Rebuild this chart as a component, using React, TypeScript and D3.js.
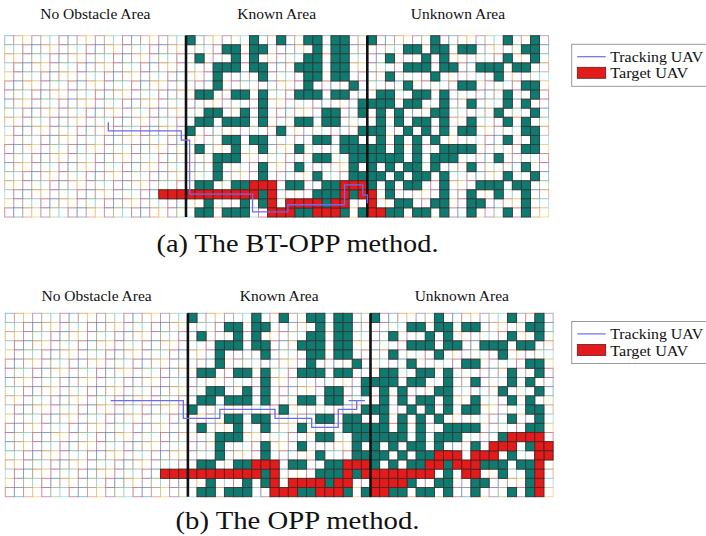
import React, { useEffect, useRef } from "react";
import * as d3 from "d3";

const COLS = 60;
const ROWS = 20;
const areaLabels = ["No Obstacle Area", "Known Area", "Unknown Area"];
const dividerCols = [20, 40];
// MATLAB default colour order, used for the cell outlines
const gridColors = ["#0072BD", "#D95319", "#EDB120", "#7E2F8E", "#77AC30", "#4DBEEE", "#A2142F"];

// obstacle columns for each row (rows 0..19)
const obstacleCols = [
  [20, 27, 30, 33, 34, 36, 37, 40, 47, 55, 58],
  [24, 25, 27, 28, 34, 36, 37, 44, 45, 47, 48, 50, 51, 57, 58],
  [21, 25, 27, 33, 34, 36, 37, 42, 46, 48, 55, 58],
  [23, 24, 25, 27, 28, 32, 33, 34, 36, 37, 44, 45, 46, 48, 49, 52, 53, 54, 56, 57],
  [23, 28, 33, 34, 36, 37, 42, 47, 54],
  [23, 33, 38, 44, 50, 51, 57, 58],
  [21, 22, 25, 26, 28, 32, 33, 34, 36, 37, 41, 42, 45, 46, 48, 55, 58],
  [28, 39, 40, 41, 42, 44, 45, 48, 51, 55, 57],
  [22, 23, 26, 28, 35, 36, 39, 41, 43, 47, 48, 54, 58],
  [21, 22, 24, 25, 26, 28, 32, 33, 35, 36, 41, 43, 45, 46, 48, 51, 55, 57],
  [20, 30, 39, 40, 41, 44, 46, 48, 50, 51, 57, 58],
  [24, 25, 27, 28, 34, 35, 37, 38, 41, 43, 45, 47, 55, 58],
  [21, 25, 28, 32, 37, 38, 39, 40, 41, 43, 45, 48, 49, 50, 51, 57, 58],
  [23, 24, 25, 34, 35, 38, 39, 40, 41, 42, 43, 45, 47, 48, 49, 54],
  [23, 28, 32, 38, 40, 42, 44, 45, 47, 51, 57],
  [23, 28, 34, 38, 39, 40, 41, 43, 45, 46, 48, 55, 58],
  [21, 22, 25, 26, 31, 32, 35, 36, 40, 42, 44, 45, 48, 52, 53, 54, 56, 57],
  [28, 34, 35, 36, 38, 42, 48, 51, 54, 57],
  [22, 26, 28, 35, 43, 44, 47, 48, 51, 52, 57],
  [21, 22, 24, 25, 26, 32, 33, 37, 39, 42, 43, 45, 46, 48, 51, 55, 57],
];

// cells visited by the target UAV [col, row]
const targetPath = [
  [17, 17], [18, 17], [19, 17], [20, 17], [21, 17], [22, 17], [23, 17], [24, 17], [25, 17], [26, 17], [27, 17],
  [27, 16], [28, 16], [29, 16], [29, 17], [29, 18], [29, 19], [30, 19], [31, 19], [31, 18], [32, 18], [33, 18],
  [34, 18], [34, 19], [35, 19], [36, 19], [36, 18], [37, 18], [37, 17], [37, 16], [38, 16], [39, 16], [39, 17],
  [40, 17], [40, 18], [40, 19], [41, 19],
  [41, 18], [41, 17], [42, 17], [42, 18], [43, 18], [43, 17], [44, 17], [45, 17], [46, 17], [46, 16], [47, 16],
  [47, 15], [48, 15], [49, 15], [49, 16], [50, 16], [50, 17], [51, 17], [51, 16], [51, 15], [52, 15], [53, 15],
  [53, 14], [54, 14], [55, 14], [55, 13], [56, 13], [57, 13], [58, 13], [58, 14], [59, 14], [59, 15], [58, 15],
  [58, 16], [58, 17], [58, 18], [58, 19],
];
const targetStepsA = 37;

// tracking UAV trajectories in grid units [col, row]
const trackA = [
  [11.43, 9.54], [11.43, 10.5], [19.48, 10.5], [19.48, 11.52], [20.4, 11.52], [20.4, 17.48], [27.34, 17.48],
  [27.34, 19.43], [31.24, 19.43], [31.24, 18.65], [37.49, 18.65], [37.49, 16.45], [39.5, 16.45], [39.5, 17.55],
  [40.0, 17.55], [40.0, 18.5],
];
const trackB = [
  [11.54, 9.53], [19.5, 9.53], [19.5, 11.45], [23.5, 11.45], [23.5, 10.47], [29.54, 10.47], [29.54, 11.45],
  [33.56, 11.45], [33.56, 12.43], [36.47, 12.43], [36.47, 10.47], [38.49, 10.47], [38.49, 9.53], [37.6, 9.53],
  [39.4, 9.53],
];

const legendItems = ["Tracking UAV", "Target UAV"];
const captions = ["(a) The BT-OPP method.", "(b) The OPP method."];

const panels = [
  { x0: 4.7, x1: 548.6, y0: 35.7, y1: 217.0, labelY: 19, legendY: 44.3, captionY: 252, captionW: 282, track: trackA, steps: targetStepsA },
  { x0: 5.3, x1: 553.1, y0: 313.3, y1: 496.7, labelY: 301, legendY: 321.5, captionY: 529, captionW: 244, track: trackB, steps: targetPath.length },
];

const App = () => {
  const svgRef = useRef(null);

  useEffect(() => {
    const svg = d3.select(svgRef.current);
    svg.selectAll("*").remove();

    const cells = d3.range(ROWS * COLS).map((i) => ({ r: Math.floor(i / COLS), c: i % COLS }));
    const obstacles = obstacleCols.flatMap((cols, r) => cols.map((c) => ({ r, c })));

    panels.forEach((p, pi) => {
      const x = d3.scaleLinear().domain([0, COLS]).range([p.x0, p.x1]);
      const y = d3.scaleLinear().domain([0, ROWS]).range([p.y0, p.y1]);
      const cw = x(1) - x(0);
      const ch = y(1) - y(0);
      const g = svg.append("g");

      g.selectAll("rect.cell")
        .data(cells)
        .join("rect")
        .attr("class", "cell")
        .attr("x", (d) => x(d.c))
        .attr("y", (d) => y(d.r))
        .attr("width", cw)
        .attr("height", ch)
        .attr("fill", "white")
        .attr("stroke", (d, i) => gridColors[i % gridColors.length])
        .attr("stroke-opacity", 0.45)
        .attr("stroke-width", 1);

      g.selectAll("rect.obs")
        .data(obstacles)
        .join("rect")
        .attr("class", "obs")
        .attr("x", (d) => x(d.c))
        .attr("y", (d) => y(d.r))
        .attr("width", cw)
        .attr("height", ch)
        .attr("fill", "#0e7a70")
        .attr("stroke", "#2f3a39")
        .attr("stroke-width", 0.9);

      g.selectAll("rect.target")
        .data(targetPath.slice(0, p.steps))
        .join("rect")
        .attr("class", "target")
        .attr("x", (d) => x(d[0]))
        .attr("y", (d) => y(d[1]))
        .attr("width", cw)
        .attr("height", ch)
        .attr("fill", "#e31b1b")
        .attr("stroke", "#5a2020")
        .attr("stroke-width", 0.9);

      g.selectAll("line.divider")
        .data(dividerCols)
        .join("line")
        .attr("class", "divider")
        .attr("x1", (d) => x(d))
        .attr("x2", (d) => x(d))
        .attr("y1", y(0))
        .attr("y2", y(ROWS))
        .attr("stroke", "#111")
        .attr("stroke-width", 2.6);

      const line = d3
        .line()
        .x((d) => x(d[0]))
        .y((d) => y(d[1]));
      g.append("path")
        .datum(p.track)
        .attr("d", line)
        .attr("fill", "none")
        .attr("stroke", "#6a6af2")
        .attr("stroke-width", 1.3);

      g.selectAll("text.area")
        .data(areaLabels)
        .join("text")
        .attr("class", "area")
        .attr("x", (d, i) => x(10 + i * 20))
        .attr("y", p.labelY)
        .attr("text-anchor", "middle")
        .attr("font-family", "Liberation Serif")
        .attr("font-size", "15.5px")
        .attr("fill", "#111")
        .text((d) => d);

      // legend
      const lg = g.append("g").attr("transform", `translate(571.7,${p.legendY})`);
      lg.append("rect")
        .attr("width", 140)
        .attr("height", 42)
        .attr("fill", "white")
        .attr("stroke", "#999")
        .attr("stroke-width", 1);
      lg.append("line")
        .attr("x1", 5.5)
        .attr("x2", 34)
        .attr("y1", 12.4)
        .attr("y2", 12.4)
        .attr("stroke", "#6a6af2")
        .attr("stroke-width", 1.2);
      lg.append("rect")
        .attr("x", 5.6)
        .attr("y", 23)
        .attr("width", 28.4)
        .attr("height", 11)
        .attr("fill", "#e31b1b")
        .attr("stroke", "#5a2020")
        .attr("stroke-width", 0.8);
      lg.selectAll("text")
        .data(legendItems)
        .join("text")
        .attr("x", 38.5)
        .attr("y", (d, i) => 17.3 + i * 16.7)
        .attr("font-family", "Liberation Serif")
        .attr("font-size", "14.8px")
        .attr("textLength", (d, i) => (i === 0 ? 93 : 78))
        .attr("lengthAdjust", "spacingAndGlyphs")
        .attr("fill", "#111")
        .text((d) => d);

      svg.append("text")
        .attr("x", 297.5)
        .attr("y", p.captionY)
        .attr("text-anchor", "middle")
        .attr("font-family", "Liberation Serif")
        .attr("font-size", "25px")
        .attr("textLength", p.captionW)
        .attr("lengthAdjust", "spacingAndGlyphs")
        .attr("fill", "#111")
        .text(captions[pi]);
    });
  }, []);

  return (
    <svg
      ref={svgRef}
      width={706}
      height={536}
      style={{ position: "absolute", left: 0, top: 0, background: "white" }}
    />
  );
};

export default App;
